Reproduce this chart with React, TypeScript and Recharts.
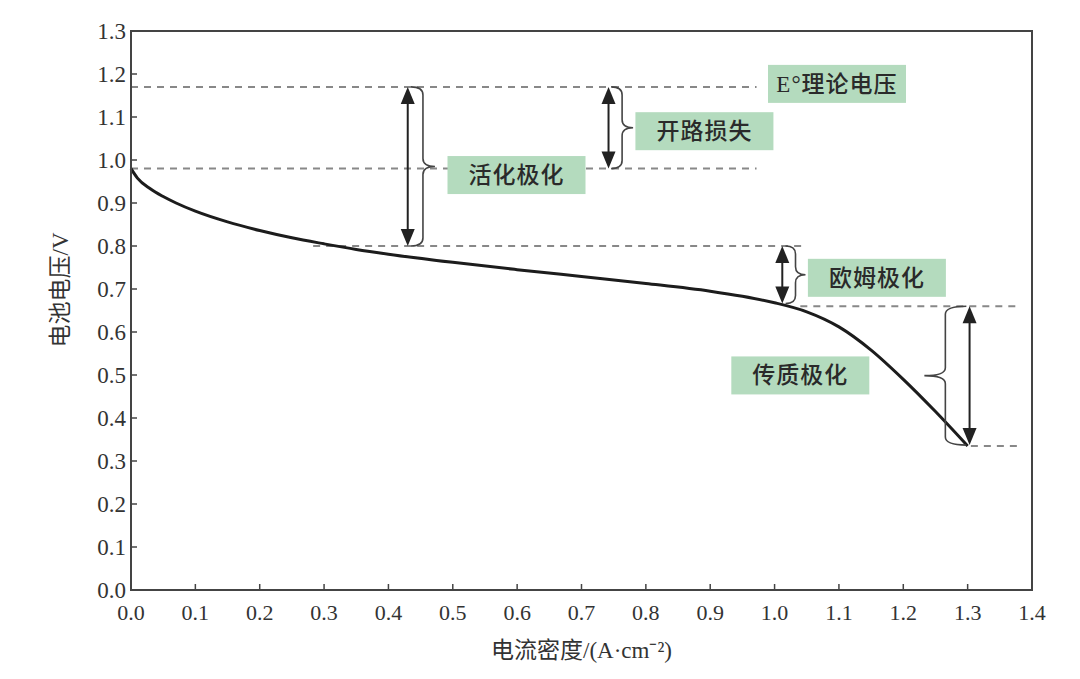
import React from "react";
import {
    LineChart,
    Line,
    XAxis,
    YAxis,
    ReferenceLine,
    ReferenceArea,
    ReferenceDot,
} from "recharts";

// polarization curve
const currentDensity = [0, 0.01, 0.03, 0.05, 0.07, 0.1, 0.15, 0.2, 0.25, 0.3, 0.35, 0.4, 0.5, 0.6, 0.7, 0.8, 0.9, 0.95, 1.0, 1.05, 1.1, 1.15, 1.2, 1.25, 1.3];
const cellVoltage = [0.98, 0.958, 0.933, 0.915, 0.9, 0.881, 0.856, 0.836, 0.819, 0.805, 0.792, 0.781, 0.762, 0.745, 0.729, 0.713, 0.695, 0.683, 0.668, 0.647, 0.612, 0.558, 0.49, 0.415, 0.335];

const xTicks = [0, 0.1, 0.2, 0.3, 0.4, 0.5, 0.6, 0.7, 0.8, 0.9, 1.0, 1.1, 1.2, 1.3, 1.4];
const yTicks = [0, 0.1, 0.2, 0.3, 0.4, 0.5, 0.6, 0.7, 0.8, 0.9, 1.0, 1.1, 1.2, 1.3];

// dashed guide levels: [voltage, from x, to x]
const guideLevels = [
    [1.17, 0, 0.972],
    [0.98, 0, 0.972],
    [0.8, 0.283, 1.045],
    [0.66, 1.04, 1.38],
    [0.335, 1.305, 1.38],
];

// double arrows: [x, top, bottom]
const arrows = [
    [0.43, 1.17, 0.8],
    [0.742, 1.17, 0.98],
    [1.012, 0.8, 0.666],
    [1.303, 0.66, 0.337],
];

// braces: [x, top, bottom, width px (negative = opens left)]
const braces = [
    [0.435, 1.17, 0.8, 24],
    [0.746, 1.17, 0.98, 22],
    [1.017, 0.8, 0.666, 20],
    [1.298, 0.66, 0.337, -42],
];

const labelNames = ["E°理论电压", "开路损失", "活化极化", "欧姆极化", "传质极化"];
const labelX = [1.097, 0.891, 0.599, 1.159, 1.04];
const labelY = [1.177, 1.067, 0.965, 0.726, 0.499];

const data = currentDensity.map((x, i) => ({ x, v: cellVoltage[i] }));

const serif = "'Liberation Serif', 'Noto Sans CJK SC', serif";
const TICK_GAP = 16;

function XTick(props: any) {
    const { x, y, payload } = props;
    const axisY = y - TICK_GAP;
    return (
        <g>
            <line x1={x} x2={x} y1={axisY} y2={axisY - 6} stroke="#444" strokeWidth={1.5} />
            <text x={x} y={y + 14} textAnchor="middle" fontFamily={serif} fontSize={22} fill="#333">
                {payload.value.toFixed(1)}
            </text>
        </g>
    );
}

function YTick(props: any) {
    const { x, y, payload } = props;
    const axisX = x + TICK_GAP;
    return (
        <g>
            <line x1={axisX} x2={axisX + 6} y1={y} y2={y} stroke="#444" strokeWidth={1.5} />
            <text x={x + 11} y={y + 8} textAnchor="end" fontFamily={serif} fontSize={23} fill="#333">
                {payload.value.toFixed(1)}
            </text>
        </g>
    );
}

function ArrowShape(props: any) {
    const { x1, y1, y2 } = props;
    const top = Math.min(y1, y2);
    const bot = Math.max(y1, y2);
    const h = 17;
    const w = 7;
    return (
        <g>
            <line x1={x1} x2={x1} y1={top + h - 2} y2={bot - h + 2} stroke="#222" strokeWidth={2} />
            <polygon points={`${x1},${top} ${x1 - w},${top + h} ${x1 + w},${top + h}`} fill="#222" />
            <polygon points={`${x1},${bot} ${x1 - w},${bot - h} ${x1 + w},${bot - h}`} fill="#222" />
        </g>
    );
}

function makeBrace(width: number) {
    return (props: any) => {
        const { x1, y1, y2 } = props;
        const top = Math.min(y1, y2);
        const bot = Math.max(y1, y2);
        const mid = (top + bot) / 2;
        const xm = x1 + width / 2;
        const xt = x1 + width;
        const r = Math.min(8, (bot - top) / 6);
        const d = `M${x1},${top} Q${xm},${top} ${xm},${top + r} L${xm},${mid - r} Q${xm},${mid} ${xt},${mid} Q${xm},${mid} ${xm},${mid + r} L${xm},${bot - r} Q${xm},${bot} ${x1},${bot}`;
        return <path d={d} fill="none" stroke="#444" strokeWidth={1.6} />;
    };
}

function makeLabelBox(text: string) {
    return (props: any) => {
        const { cx, cy } = props;
        const bw = 138;
        const bh = 38;
        return (
            <g>
                <rect x={cx - bw / 2} y={cy - bh / 2} width={bw} height={bh} fill="#b4dbbe" />
                <text
                    x={cx}
                    y={cy + 8}
                    textAnchor="middle"
                    fontFamily={serif}
                    fontSize={23}
                    fontWeight={500}
                    letterSpacing={1}
                    fill="#2a2a2a"
                >
                    {text}
                </text>
            </g>
        );
    };
}

export default function App() {
    return (
        <div style={{ position: "absolute", left: 0, top: 0, width: 1080, height: 679, background: "#fff" }}>
            <LineChart
                width={1080}
                height={679}
                data={data}
                margin={{ top: 31, right: 48, bottom: 29, left: 40 }}
            >
                <XAxis
                    dataKey="x"
                    type="number"
                    domain={[0, 1.4]}
                    ticks={xTicks}
                    height={60}
                    tickLine={false}
                    tickSize={0}
                    tickMargin={TICK_GAP}
                    stroke="#444"
                    strokeWidth={2}
                    tick={<XTick />}
                    label={{
                        content: (p: any) => (
                            <text
                                x={p.viewBox.x + p.viewBox.width / 2}
                                y={p.viewBox.y + 68}
                                textAnchor="middle"
                                fontFamily={serif}
                                fontSize={23}
                                fill="#333"
                            >
                                电流密度/(A·cm⁻²)
                            </text>
                        ),
                    }}
                />
                <YAxis
                    type="number"
                    domain={[0, 1.3]}
                    ticks={yTicks}
                    width={91}
                    tickLine={false}
                    tickSize={0}
                    tickMargin={TICK_GAP}
                    stroke="#444"
                    strokeWidth={2}
                    tick={<YTick />}
                    label={{
                        content: (p: any) => (
                            <text
                                x={p.viewBox.x + 28}
                                y={290}
                                textAnchor="middle"
                                fontFamily={serif}
                                fontSize={23}
                                fill="#333"
                                transform={`rotate(-90 ${p.viewBox.x + 28} 290)`}
                            >
                                电池电压/V
                            </text>
                        ),
                    }}
                />
                <ReferenceArea x1={0} x2={1.4} y1={0} y2={1.3} fill="none" stroke="#444" strokeWidth={2} />
                {guideLevels.map(([y, xa, xb], i) => (
                    <ReferenceLine
                        key={"g" + i}
                        segment={[{ x: xa, y }, { x: xb, y }]}
                        stroke="#888"
                        strokeWidth={2}
                        strokeDasharray="7 6"
                    />
                ))}
                <Line
                    type="monotone"
                    dataKey="v"
                    stroke="#1c1c1c"
                    strokeWidth={3}
                    dot={false}
                    isAnimationActive={false}
                />
                {arrows.map(([x, ya, yb], i) => (
                    <ReferenceLine
                        key={"a" + i}
                        segment={[{ x, y: ya }, { x, y: yb }]}
                        shape={ArrowShape}
                    />
                ))}
                {braces.map(([x, ya, yb, w], i) => (
                    <ReferenceLine
                        key={"b" + i}
                        segment={[{ x, y: ya }, { x, y: yb }]}
                        shape={makeBrace(w)}
                    />
                ))}
                {labelNames.map((name, i) => (
                    <ReferenceDot
                        key={"l" + i}
                        x={labelX[i]}
                        y={labelY[i]}
                        r={1}
                        shape={makeLabelBox(name)}
                    />
                ))}
            </LineChart>
        </div>
    );
}
